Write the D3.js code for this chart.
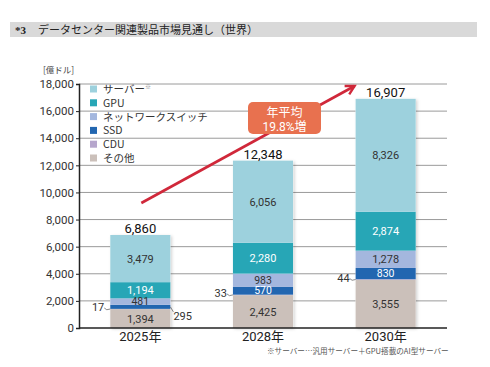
<!DOCTYPE html>
<html><head><meta charset="utf-8">
<script src="https://cdn.jsdelivr.net/npm/d3@7"></script>
<style>
body{margin:0;background:#fff;}
svg{display:block;}
text{font-family:Roboto,"Noto Sans CJK JP",sans-serif;}
.jp{font-family:"Noto Sans CJK JP",sans-serif;}
</style></head>
<body><svg id="c" width="490" height="367"></svg>
<script>
const years = ["2025年","2028年","2030年"];
const seriesNames = ["その他","CDU","SSD","ネットワークスイッチ","GPU","サーバー"];
const other   = [1394, 2425, 3555];
const cdu     = [17, 33, 44];
const ssd     = [295, 570, 830];
const network = [481, 983, 1278];
const gpu     = [1194, 2280, 2874];
const server  = [3479, 6056, 8326];
const totals  = [6860, 12348, 16907];
const yTicks  = [0,2000,4000,6000,8000,10000,12000,14000,16000,18000];
const legendOrder = ["サーバー","GPU","ネットワークスイッチ","SSD","CDU","その他"];
const colors = {"サーバー":"#9dd1dd","GPU":"#27a6b6","ネットワークスイッチ":"#a4b7de","SSD":"#2266b0","CDU":"#b6a6cc","その他":"#cbc0ba"};
const labelColors = {"サーバー":"#333","GPU":"#fff","ネットワークスイッチ":"#333","SSD":"#fff","CDU":"#333","その他":"#333"};
const growthLabel = ["年平均","19.8%増"];

const svg = d3.select("#c");
// title bar
svg.append("rect").attr("x",10).attr("y",22).attr("width",467).attr("height",15).attr("fill","#d9d9d9");
const t = svg.append("text").attr("class","jp").attr("x",15).attr("y",33.5).attr("font-size",11).attr("fill","#222");
t.append("tspan").attr("font-weight","bold").attr("font-family","Liberation Serif").text("*3");
t.append("tspan").attr("dx",12).text("データセンター関連製品市場見通し（世界）");

const x = d3.scaleBand().domain(years).range([79,447]).paddingInner(0.51).paddingOuter(0.255);
const y = d3.scaleLinear().domain([0,18000]).range([328,84]);

// gridlines
svg.append("g").selectAll("line").data(yTicks.filter(d=>d>0)).join("line")
  .attr("x1",79).attr("x2",447).attr("y1",d=>y(d)).attr("y2",d=>y(d))
  .attr("stroke","#9a9a9a").attr("stroke-width",1);

// y axis
const ya = svg.append("g").attr("transform","translate(79,0)")
  .call(d3.axisLeft(y).tickValues(yTicks).tickFormat(d3.format(",")).tickSize(3).tickPadding(2));
ya.select(".domain").attr("stroke","#222").attr("stroke-width",1.5);
ya.selectAll(".tick line").attr("stroke","#222");
ya.selectAll("text").attr("font-size",11.5).attr("fill","#333").attr("font-family","Roboto");
svg.append("text").attr("class","jp").attr("x",43).attr("y",73).attr("font-size",8.5).attr("fill","#444").text("[億ドル]");

// stack
const rows = years.map((yr,i)=>({year:yr,"その他":other[i],"CDU":cdu[i],"SSD":ssd[i],"ネットワークスイッチ":network[i],"GPU":gpu[i],"サーバー":server[i]}));
const stacked = d3.stack().keys(seriesNames)(rows);

const defs = svg.append("defs");
const f = defs.append("filter").attr("id","sh").attr("x","-10%").attr("y","-10%").attr("width","130%").attr("height","130%");
f.append("feDropShadow").attr("dx",1.5).attr("dy",1).attr("stdDeviation",1.5).attr("flood-color","#000").attr("flood-opacity",0.18);

// shadow base
svg.append("g").selectAll("rect").data(rows).join("rect")
  .attr("x",d=>x(d.year)).attr("width",x.bandwidth())
  .attr("y",(d,i)=>y(d3.sum(seriesNames,k=>d[k]))).attr("height",(d,i)=>y(0)-y(d3.sum(seriesNames,k=>d[k])))
  .attr("fill","#fff").attr("filter","url(#sh)");

const g = svg.append("g");
stacked.forEach(s=>{
  g.selectAll(null).data(s).join("rect")
    .attr("x",d=>x(d.data.year)).attr("width",x.bandwidth())
    .attr("y",d=>y(d[1])).attr("height",d=>y(d[0])-y(d[1]))
    .attr("fill",colors[s.key]);
});
// x axis baseline
svg.append("line").attr("x1",79).attr("x2",447).attr("y1",y(0)).attr("y2",y(0)).attr("stroke","#222").attr("stroke-width",1.5);

// segment labels (small segments are labelled outside)
stacked.forEach(s=>{
  if(s.key==="CDU") return;
  g.selectAll(null).data(s.filter(d=>(d[1]-d[0])>=400)).join("text")
    .attr("x",d=>x(d.data.year)+x.bandwidth()/2)
    .attr("y",d=>(y(d[0])+y(d[1]))/2+(d[1]-d[0]<1000?3.5:4))
    .attr("text-anchor","middle").attr("font-size",d=>(d[1]-d[0]<1000?10.5:11)).attr("fill",labelColors[s.key])
    .text(d=>d3.format(",")(d[1]-d[0]));
});

// outside labels: CDU (left) for each bar, SSD 2025 (right)
const cduS = stacked.find(s=>s.key==="CDU");
cduS.forEach((d,i)=>{
  const bx = x(d.data.year);
  const yc = y((d[0]+d[1])/2);
  g.append("text").attr("x",bx-6).attr("y",yc+2).attr("text-anchor","end").attr("font-size",11).attr("fill","#333").text(d3.format(",")(cdu[i]));
  g.append("path").attr("d",`M${bx-6},${yc-1} Q${bx-4},${yc+2} ${bx},${yc}`).attr("fill","none").attr("stroke","#555").attr("stroke-width",0.7);
});
const ssdS = stacked.find(s=>s.key==="SSD");
{
  const d = ssdS[0];
  const bx = x(d.data.year)+x.bandwidth();
  const yc = y((d[0]+d[1])/2);
  g.append("text").attr("x",bx+3).attr("y",yc+13).attr("font-size",11).attr("fill","#333").text(d3.format(",")(ssd[0]));
  g.append("path").attr("d",`M${bx},${yc} L${bx+3},${yc+5}`).attr("fill","none").attr("stroke","#555").attr("stroke-width",0.7);
}

// totals
svg.append("g").selectAll("text").data(rows).join("text")
  .attr("x",d=>x(d.year)+x.bandwidth()/2).attr("y",(d,i)=>y(totals[i])-2)
  .attr("text-anchor","middle").attr("font-size",13).attr("font-weight",400).attr("fill","#111")
  .text((d,i)=>d3.format(",")(totals[i]));

// x labels
svg.append("g").selectAll("text").data(years).join("text")
  .attr("x",d=>x(d)+x.bandwidth()/2).attr("y",341).attr("text-anchor","middle")
  .attr("font-size",13).attr("fill","#222").text(d=>d);

// arrow
const x0 = x(years[0])+x.bandwidth()/2+1, y0 = y(totals[0])-32;
const x1 = x(years[2])-1, y1 = y(18000)+2;
svg.append("line").attr("x1",x0).attr("y1",y0).attr("x2",x1).attr("y2",y1)
  .attr("stroke","#d0283a").attr("stroke-width",2.6);
const ang = Math.atan2(y1-y0,x1-x0);
const L=10, A=0.5;
svg.append("path")
  .attr("d",`M${x1-L*Math.cos(ang-A)},${y1-L*Math.sin(ang-A)} L${x1},${y1} L${x1-L*Math.cos(ang+A)},${y1-L*Math.sin(ang+A)}`)
  .attr("fill","none").attr("stroke","#d0283a").attr("stroke-width",2.4);

// callout
svg.append("rect").attr("x",248).attr("y",102).attr("width",73).attr("height",32).attr("rx",5).attr("fill","#e8714f");
svg.append("text").attr("class","jp").attr("x",284.5).attr("y",117).attr("text-anchor","middle").attr("font-size",12).attr("fill","#fff").text(growthLabel[0]);
svg.append("text").attr("x",284.5).attr("y",130.5).attr("text-anchor","middle").attr("font-size",12).attr("fill","#fff").attr("font-family","Roboto,'Noto Sans CJK JP'").text(growthLabel[1]);

// legend
const lg = svg.append("g");
legendOrder.forEach((k,i)=>{
  const cy = 89 + i*13.8;
  lg.append("rect").attr("x",90).attr("y",cy-3.5).attr("width",7).attr("height",7).attr("fill",colors[k]);
  const tx = lg.append("text").attr("class","jp").attr("x",103).attr("y",cy+4).attr("font-size",10.5).attr("fill","#333").text(k);
  if(k==="サーバー") tx.append("tspan").attr("font-size",6).attr("dy",-4).attr("fill","#888").text("※");
});

// footnote
svg.append("text").attr("class","jp").attr("x",267).attr("y",354).attr("font-size",7.6).attr("fill","#555")
  .text("※サーバー…汎用サーバー＋GPU搭載のAI型サーバー");
</script></body></html>
